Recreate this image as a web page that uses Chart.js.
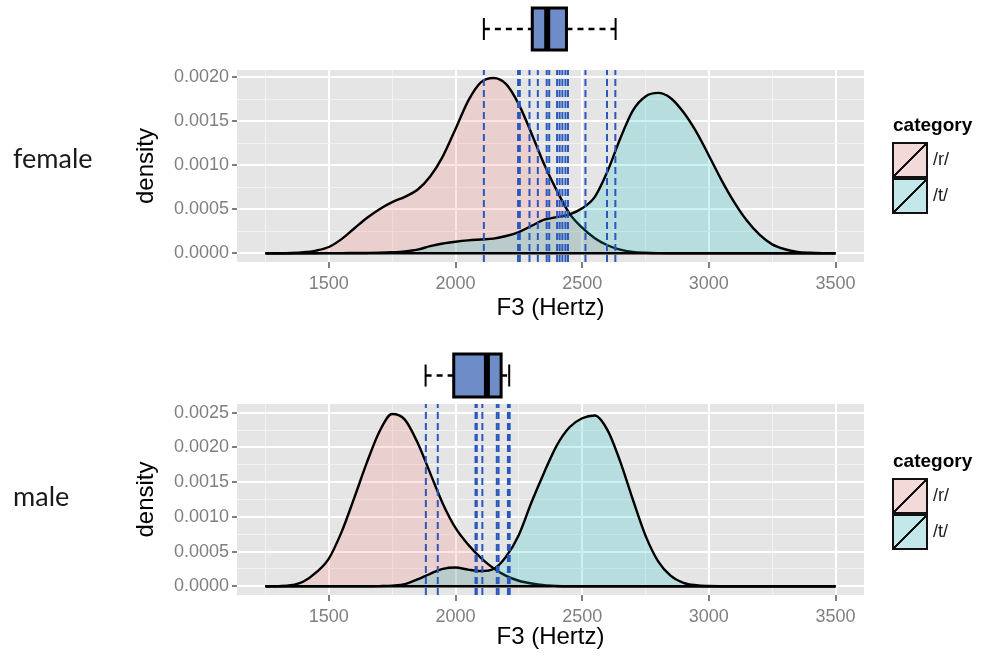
<!DOCTYPE html>
<html>
<head>
<meta charset="utf-8">
<script src="https://cdn.jsdelivr.net/npm/chart.js@4.4.0/dist/chart.umd.min.js"></script>
<style>
  body { margin: 0; background: #fff; width: 983px; height: 656px; position: relative; overflow: hidden; font-family: "Liberation Sans", Arial, sans-serif; }
  .panel { position: absolute; left: 0; width: 983px; }
  .sex { position: absolute; left: 13px; font-family: Lato, "Open Sans", sans-serif; font-size: 27px; color: #1a1a1a; }
  .legend { position: absolute; left: 892px; width: 91px; }
  .legend .title { position: absolute; left: 1px; top: 0; font-weight: bold; font-size: 19px; color: #000; }
  .key { position: absolute; left: 0; width: 36px; height: 36px; box-sizing: border-box; border: 2px solid #111; }
  .key.r { background: linear-gradient(to bottom right, #F3D9D7 calc(50% - 1.2px), #111 calc(50% - 1.2px), #111 calc(50% + 1.2px), #F3D9D7 calc(50% + 1.2px)); }
  .key.t { background: linear-gradient(to bottom right, #C2E8E9 calc(50% - 1.2px), #111 calc(50% - 1.2px), #111 calc(50% + 1.2px), #C2E8E9 calc(50% + 1.2px)); }
  .lab { position: absolute; left: 41px; font-size: 18px; color: #1a1a1a; }
</style>
</head>
<body>
<div class="panel" style="top:0;height:330px"><canvas id="female" width="983" height="330"></canvas></div>
<div class="panel" style="top:330px;height:326px"><canvas id="male" width="983" height="326"></canvas></div>

<div class="sex" style="top:141px">female</div>
<div class="sex" style="top:479px">male</div>

<div class="legend" style="top:114px">
  <div class="title">category</div>
  <div class="key r" style="top:28px"></div>
  <div class="key t" style="top:64px"></div>
  <div class="lab" style="top:35px">/r/</div>
  <div class="lab" style="top:71px">/t/</div>
</div>
<div class="legend" style="top:450px">
  <div class="title">category</div>
  <div class="key r" style="top:28px"></div>
  <div class="key t" style="top:64px"></div>
  <div class="lab" style="top:35px">/r/</div>
  <div class="lab" style="top:71px">/t/</div>
</div>

<script>
const xGrid = [1250, 1300, 1350, 1400, 1450, 1500, 1550, 1600, 1650, 1700, 1750, 1800, 1850, 1900, 1950,
  2000, 2050, 2100, 2150, 2200, 2250, 2300, 2350, 2400, 2450, 2500, 2550, 2600, 2650, 2700, 2750,
  2800, 2850, 2900, 2950, 3000, 3050, 3100, 3150, 3200, 3250, 3300, 3350, 3400, 3450, 3500];

// female densities
const femaleR = [0, 0, 0.000002, 0.00001, 0.00003, 0.00007, 0.00016, 0.00028, 0.0004, 0.0005, 0.00058,
  0.00064, 0.00072, 0.00087, 0.0011, 0.00141, 0.00173, 0.00194, 0.00199, 0.00192, 0.00169, 0.00136,
  0.00101, 0.00071, 0.00045, 0.00029, 0.00017, 0.00009, 0.00004, 0.000015, 0.000005, 0.000001,
  0, 0, 0, 0, 0, 0, 0, 0, 0, 0, 0, 0, 0, 0];
const femaleT = [0, 0, 0, 0, 0, 0.000001, 0.000001, 0.000002, 0.000003, 0.000005, 0.00001, 0.00002,
  0.00004, 0.00008, 0.00011, 0.00013, 0.000145, 0.000155, 0.000165, 0.000195, 0.00024, 0.00031,
  0.00038, 0.00041, 0.00044, 0.00051, 0.00064, 0.00093, 0.0013, 0.00162, 0.00178, 0.00182, 0.00176,
  0.0016, 0.00138, 0.00111, 0.00083, 0.00058, 0.00037, 0.00021, 0.0001, 0.000045, 0.000015,
  0.000005, 0.000001, 0];

// male densities
const maleR = [0, 0.000003, 0.000015, 0.00007, 0.0002, 0.0004, 0.00078, 0.00127, 0.00178, 0.00223,
  0.00248, 0.0024, 0.00207, 0.00163, 0.00119, 0.00084, 0.0006, 0.00041, 0.00026, 0.00015, 0.00008,
  0.00004, 0.000015, 0.000005, 0.000001, 0, 0, 0, 0, 0, 0, 0, 0, 0, 0, 0, 0, 0, 0, 0, 0, 0, 0, 0, 0, 0];
const maleT = [0, 0, 0, 0, 0, 0, 0, 0, 0, 0.000003, 0.00001, 0.00003, 0.0001, 0.00018, 0.00025,
  0.00027, 0.00024, 0.00022, 0.00025, 0.00043, 0.00074, 0.00121, 0.00164, 0.00203, 0.00229, 0.00242,
  0.00246, 0.00225, 0.0018, 0.00125, 0.00073, 0.00036, 0.00015, 0.00005, 0.000015, 0.000004,
  0.000001, 0, 0, 0, 0, 0, 0, 0, 0, 0];

// individual token values (dashed lines)
const femaleLines = [2112, 2247, 2254, 2292, 2325, 2360, 2370, 2401, 2411, 2422, 2434, 2444, 2513, 2598, 2631];
const maleLines = [1883, 1930, 2079, 2084, 2106, 2163, 2170, 2207, 2211, 2214];

// boxplot stats: min, q1, median, q3, max
const femaleBox = [2112, 2303, 2362, 2438, 2632];
const maleBox = [1882, 1993, 2124, 2180, 2212];

// axis breaks
const xBreaks = [1500, 2000, 2500, 3000, 3500];
const xMinor = [1250, 1750, 2250, 2750, 3250];
const femaleYBreaks = [0, 0.0005, 0.001, 0.0015, 0.002];
const femaleYMinor = [0.00025, 0.00075, 0.00125, 0.00175];
const maleYBreaks = [0, 0.0005, 0.001, 0.0015, 0.002, 0.0025];
const maleYMinor = [0.00025, 0.00075, 0.00125, 0.00175, 0.00225];

const fillR = "rgba(248,118,109,0.2)";
const fillT = "rgba(0,191,196,0.2)";
const lineBlue = "#2A58BD";
const tickGrey = "#7F7F7F";

// grey panel background
const panelBg = {
  id: "panelBg",
  beforeDraw(chart) {
    const a = chart.chartArea;
    const c = chart.ctx;
    c.save();
    c.fillStyle = "#E5E5E5";
    c.fillRect(a.left, a.top, a.right - a.left, a.bottom - a.top);
    c.restore();
  },
};

// horizontal boxplot above the panel, placed with the x scale
const boxPlot = {
  id: "boxPlot",
  afterDraw(chart, args, opts) {
    const x = chart.scales.x;
    const c = chart.ctx;
    const [mn, q1, med, q3, mx] = opts.stats.map((v) => x.getPixelForValue(v));
    const mid = (opts.top + opts.bottom) / 2;
    c.save();
    c.strokeStyle = "#000";
    c.lineWidth = 2.5;
    c.setLineDash([6, 5]);
    c.beginPath();
    c.moveTo(mn, mid); c.lineTo(q1, mid);
    c.moveTo(q3, mid); c.lineTo(mx, mid);
    c.stroke();
    c.setLineDash([]);
    c.lineWidth = 2;
    c.beginPath();
    c.moveTo(mn, mid - opts.cap); c.lineTo(mn, mid + opts.cap);
    c.moveTo(mx, mid - opts.cap); c.lineTo(mx, mid + opts.cap);
    c.stroke();
    c.fillStyle = "#6E8CC8";
    c.fillRect(q1, opts.top, q3 - q1, opts.bottom - opts.top);
    c.lineWidth = 3;
    c.strokeRect(q1, opts.top, q3 - q1, opts.bottom - opts.top);
    c.lineWidth = 6;
    c.beginPath();
    c.moveTo(med, opts.top); c.lineTo(med, opts.bottom);
    c.stroke();
    c.restore();
  },
};

const makeDensity = (ys, fill, order) => ({
  data: xGrid.map((x, i) => ({ x: x, y: ys[i] })),
  borderColor: "#000",
  borderWidth: 2.4,
  backgroundColor: fill,
  fill: "origin",
  pointRadius: 0,
  cubicInterpolationMode: "monotone",
  order: order,
});

const makeVLines = (vals, ymin, ymax) =>
  vals.map((v) => ({
    data: [{ x: v, y: ymin }, { x: v, y: ymax }],
    borderColor: lineBlue,
    borderWidth: 2,
    borderDash: [7, 4],
    pointRadius: 0,
    fill: false,
    order: 0,
  }));

const isIn = (arr, v) => arr.some((b) => Math.abs(b - v) < 1e-9);

const makeChart = (id, r, t, lines, yBreaks, yMinor, yMin, yMax, lay) => {
  const yTicks = yBreaks.concat(yMinor).sort((a, b) => a - b);
  const xTicks = xBreaks.concat(xMinor).sort((a, b) => a - b);
  return new Chart(document.getElementById(id).getContext("2d"), {
    type: "line",
    data: {
      datasets: [
        makeDensity(r, fillR, 3),
        makeDensity(t, fillT, 2),
        {
          data: [{ x: xGrid[0], y: 0 }, { x: xGrid[xGrid.length - 1], y: 0 }],
          borderColor: "#000", borderWidth: 2.4, pointRadius: 0, fill: false, order: 1,
        },
      ].concat(makeVLines(lines, yMin, yMax)),
    },
    options: {
      responsive: false,
      animation: false,
      devicePixelRatio: 1,
      layout: { padding: lay.padding },
      plugins: {
        legend: { display: false },
        tooltip: { enabled: false },
        boxPlot: lay.box,
      },
      scales: {
        x: {
          type: "linear",
          min: 1137.5,
          max: 3612.5,
          afterBuildTicks: (s) => { s.ticks = xTicks.map((v) => ({ value: v })); },
          afterFit: (s) => { s.height = lay.xHeight; },
          border: { display: false },
          grid: {
            color: (c) => (isIn(xBreaks, c.tick.value) ? "#FFFFFF" : "#F2F2F2"),
            lineWidth: (c) => (isIn(xBreaks, c.tick.value) ? 2 : 1),
            tickColor: (c) => (isIn(xBreaks, c.tick.value) ? tickGrey : "rgba(0,0,0,0)"),
            tickLength: 6,
            tickWidth: 2,
          },
          ticks: {
            autoSkip: false,
            maxRotation: 0,
            padding: 5,
            color: tickGrey,
            font: { family: "Liberation Sans", size: 18 },
            callback: (v) => (isIn(xBreaks, v) ? String(v) : ""),
          },
          title: {
            display: true,
            text: "F3 (Hertz)",
            color: "#000",
            font: { family: "Liberation Sans", size: 24 },
          },
        },
        y: {
          min: yMin,
          max: yMax,
          afterBuildTicks: (s) => { s.ticks = yTicks.map((v) => ({ value: v })); },
          afterFit: (s) => { s.width = 109; },
          border: { display: false },
          grid: {
            color: (c) => (isIn(yBreaks, c.tick.value) ? "#FFFFFF" : "#F2F2F2"),
            lineWidth: (c) => (isIn(yBreaks, c.tick.value) ? 2 : 1),
            tickColor: (c) => (isIn(yBreaks, c.tick.value) ? tickGrey : "rgba(0,0,0,0)"),
            tickLength: 5,
            tickWidth: 2,
          },
          ticks: {
            autoSkip: false,
            padding: 3,
            color: tickGrey,
            font: { family: "Liberation Sans", size: 18 },
            callback: (v) => (isIn(yBreaks, v) ? v.toFixed(4) : ""),
          },
          title: {
            display: true,
            text: "density",
            color: "#000",
            font: { family: "Liberation Sans", size: 24 },
          },
        },
      },
    },
    plugins: [panelBg, boxPlot],
  });
};

makeChart("female", femaleR, femaleT, femaleLines, femaleYBreaks, femaleYMinor, -0.0001, 0.00208, {
  padding: { left: 128, right: 119, top: 70, bottom: 3 },
  xHeight: 65,
  box: { stats: femaleBox, top: 8, bottom: 50, cap: 11 },
});
makeChart("male", maleR, maleT, maleLines, maleYBreaks, maleYMinor, -0.000125, 0.002625, {
  padding: { left: 128, right: 119, top: 74, bottom: 0 },
  xHeight: 61,
  box: { stats: maleBox, top: 24, bottom: 67, cap: 11 },
});
</script>
</body>
</html>
